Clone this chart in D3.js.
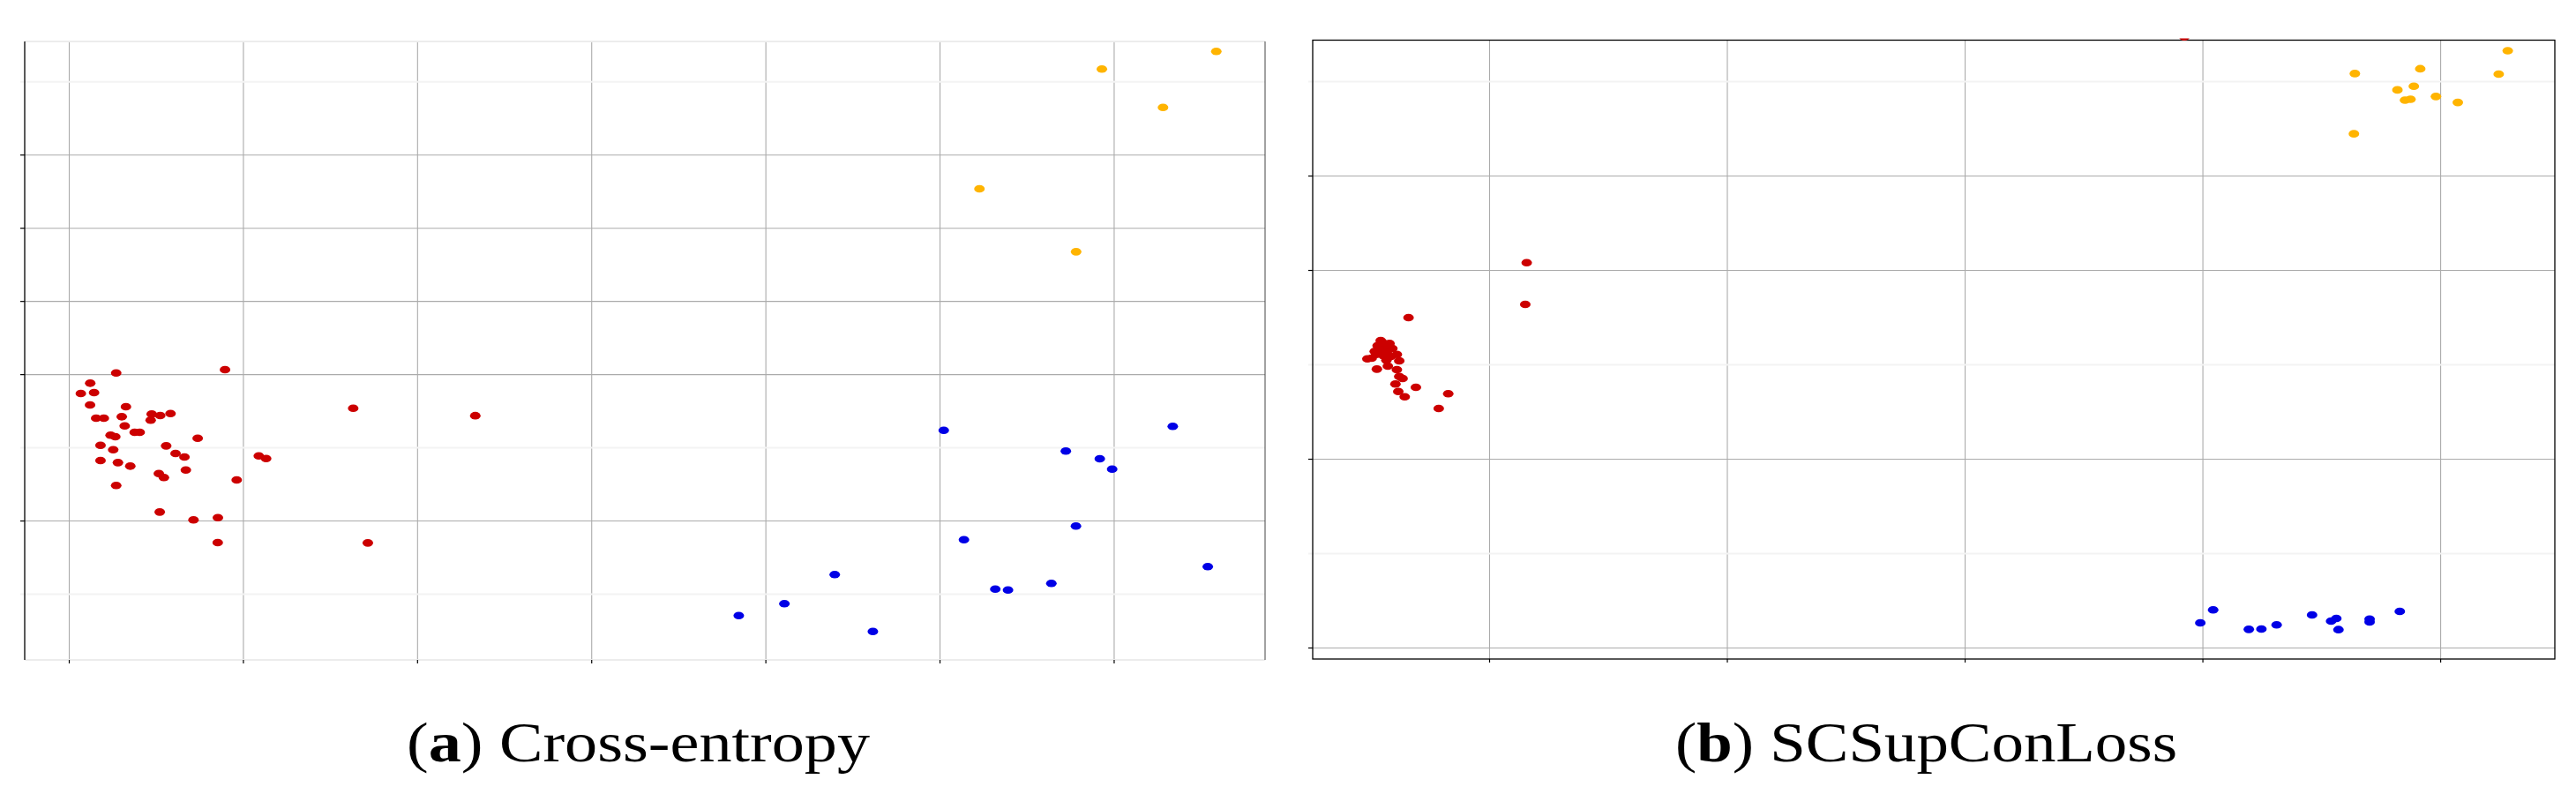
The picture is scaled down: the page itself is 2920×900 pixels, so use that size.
<!DOCTYPE html>
<html><head><meta charset="utf-8">
<script src="https://cdn.jsdelivr.net/npm/d3@7"></script>
<style>body{margin:0;background:#fff}svg{display:block}</style>
</head><body>
<svg id="c" width="2920" height="900"></svg>
<script>
// ---- data (unitless embedding coordinates) ----
const ceRed = [[0.272,4.017],[0.897,4.062],[0.123,3.877],[0.069,3.736],[0.145,3.748],[0.122,3.580],[0.328,3.555],
 [0.157,3.399],[0.201,3.399],[0.304,3.419],[0.476,3.455],[0.525,3.435],[0.584,3.463],[0.470,3.371],[0.321,3.294],
 [0.378,3.206],[0.407,3.206],[0.240,3.166],[0.267,3.146],[0.740,3.125],[0.182,3.029],[0.255,2.968],[0.559,3.021],
 [0.613,2.917],[0.664,2.868],[1.091,2.884],[1.133,2.848],[0.182,2.820],[0.282,2.792],[0.353,2.744],[0.672,2.691],
 [0.517,2.643],[0.546,2.588],[0.964,2.555],[0.272,2.479],[0.522,2.117],[0.716,2.009],[0.856,2.040],[0.855,1.699],
 [1.633,3.535],[1.717,1.695],[2.334,3.433]];
const ceBlue = [[5.024,3.234],[6.339,3.287],[5.725,2.949],[5.920,2.844],[5.991,2.703],[5.783,1.925],[5.140,1.739],
 [6.540,1.370],[4.398,1.262],[5.642,1.141],[5.320,1.064],[5.393,1.052],[4.109,0.864],[3.847,0.702],[4.617,0.485]];
const ceYellow = [[6.589,8.410],[5.932,8.169],[6.283,7.645],[5.229,6.533],[5.784,5.673]];

const scRed = [[0.158,4.078],[0.152,3.636],[-0.339,3.495],[-0.456,3.252],[-0.419,3.221],[-0.469,3.199],[-0.438,3.184],
 [-0.407,3.168],[-0.481,3.137],[-0.450,3.147],[-0.388,3.106],[-0.494,3.065],[-0.512,3.059],[-0.432,3.044],[-0.378,3.037],
 [-0.426,2.981],[-0.472,2.950],[-0.388,2.944],[-0.378,2.872],[-0.364,2.850],[-0.394,2.792],[-0.308,2.757],[-0.382,2.713],
 [-0.355,2.657],[-0.172,2.689],[-0.212,2.533],[-0.463,3.168],[-0.444,3.091],[-0.475,3.106],[-0.413,3.084],[-0.449,3.234],
 [-0.430,3.131],[2.924,6.470]];
const scBlue = [[2.991,0.262],[3.045,0.399],[3.195,0.193],[3.248,0.196],[3.312,0.240],[3.461,0.346],[3.541,0.280],
 [3.563,0.308],[3.572,0.190],[3.703,0.302],[3.703,0.271],[3.830,0.383]];
const scYellow = [[4.284,6.323],[3.641,6.081],[3.916,6.132],[4.246,6.075],[3.889,5.947],[3.820,5.908],[3.982,5.838],
 [3.852,5.800],[3.875,5.809],[4.074,5.775],[3.637,5.443]];

const ceXTicks = [0,1,2,3,4,5,6];
const ceYTicks = [1,2,3,4,5,6,7,8];
const ceFaintY = [1,3,8];
const scXTicks = [0,1,2,3,4];
const scYTicks = [0,1,2,3,4,5,6];
const scFaintY = [1,3,6];
const captionLetters = ["a","b"];
const captionTexts = ["Cross-entropy","SCSupConLoss"];
const seriesColors = ["#cc0000","#0000e6","#ffb400"];

// ---- layout ----
const panels = [
  {xDomain:[-0.2533,6.869], yDomain:[0.096,8.546], box:{l:28,r:1434,t:47,b:748},
   xTicks:ceXTicks, yTicks:ceYTicks, faint:ceFaintY, closed:false,
   series:[ceRed,ceBlue,ceYellow], cap:{cx:723.5,w:525}},
  {xDomain:[-0.742,4.482], yDomain:[-0.1215,6.435], box:{l:1488,r:2896,t:45.5,b:747},
   xTicks:scXTicks, yTicks:scYTicks, faint:scFaintY, closed:true,
   series:[scRed,scBlue,scYellow], cap:{cx:2183.5,w:569}}
];

const svg = d3.select("#c");
const defs = svg.append("defs");
panels.forEach((p,i)=>{
  const {l,r,t,b} = p.box;
  const x = d3.scaleLinear().domain(p.xDomain).range([l,r]);
  const y = d3.scaleLinear().domain(p.yDomain).range([b,t]);
  const g = svg.append("g");
  defs.append("clipPath").attr("id","clip"+i).append("rect")
    .attr("x",l-8).attr("y",t-2).attr("width",r-l+16).attr("height",b-t+4);

  // vertical grid
  const gx = g.append("g").attr("transform",`translate(0,${b})`)
    .call(d3.axisBottom(x).tickValues(p.xTicks).tickSize(-(b-t)).tickFormat(""));
  gx.select(".domain").remove();
  gx.selectAll("line").attr("stroke","#ababab").attr("stroke-width",1.1);

  // horizontal grid (some lines nearly invisible as in the source)
  const gy = g.append("g").attr("transform",`translate(${l},0)`)
    .call(d3.axisLeft(y).tickValues(p.yTicks).tickSize(-(r-l)).tickFormat(""));
  gy.select(".domain").remove();
  gy.selectAll(".tick line")
    .attr("stroke",d=>p.faint.includes(d)?"#f3f3f3":"#ababab")
    .attr("stroke-width",d=>p.faint.includes(d)?2:1.1)
    .attr("x1",d=>p.faint.includes(d)?-5:0);

  // frame
  if(p.closed){
    g.append("rect").attr("x",l).attr("y",t).attr("width",r-l).attr("height",b-t)
      .attr("fill","none").attr("stroke","#000").attr("stroke-width",1.3);
  } else {
    g.append("line").attr("x1",l).attr("x2",r).attr("y1",t).attr("y2",t).attr("stroke","#ececec").attr("stroke-width",2.2);
    g.append("line").attr("x1",l).attr("x2",r).attr("y1",b).attr("y2",b).attr("stroke","#ececec").attr("stroke-width",2.2);
    g.append("line").attr("x1",r).attr("x2",r).attr("y1",t).attr("y2",b).attr("stroke","#444").attr("stroke-width",1);
    g.append("line").attr("x1",l).attr("x2",l).attr("y1",t).attr("y2",b).attr("stroke","#000").attr("stroke-width",1.3);
  }

  // tick marks
  const tl = g.append("g").attr("transform",`translate(${l},0)`)
    .call(d3.axisLeft(y).tickValues(p.yTicks.filter(v=>!p.faint.includes(v))).tickSize(5).tickFormat(""));
  tl.select(".domain").remove();
  tl.selectAll("line").attr("stroke","#000").attr("stroke-width",1.2);
  const tb = g.append("g").attr("transform",`translate(0,${b})`)
    .call(d3.axisBottom(x).tickValues(p.xTicks).tickSize(4).tickFormat(""));
  tb.select(".domain").remove();
  tb.selectAll("line").attr("stroke","#000").attr("stroke-width",1.2);

  // points
  const pg = g.append("g").attr("clip-path",`url(#clip${i})`);
  p.series.forEach((s,k)=>{
    pg.append("g").selectAll("ellipse").data(s).join("ellipse")
      .attr("cx",d=>x(d[0])).attr("cy",d=>y(d[1]))
      .attr("rx",6).attr("ry",4.3).attr("fill",seriesColors[k]);
  });

  // caption
  const txt = svg.append("text")
    .attr("x",p.cap.cx).attr("y",863).attr("text-anchor","middle")
    .attr("font-family","'Liberation Serif','DejaVu Serif',serif").attr("font-size",64).attr("fill","#000")
    .attr("textLength",p.cap.w).attr("lengthAdjust","spacingAndGlyphs");
  txt.append("tspan").text("(");
  txt.append("tspan").attr("font-weight","bold").text(captionLetters[i]);
  txt.append("tspan").text(") " + captionTexts[i]);
});
</script>
</body></html>
